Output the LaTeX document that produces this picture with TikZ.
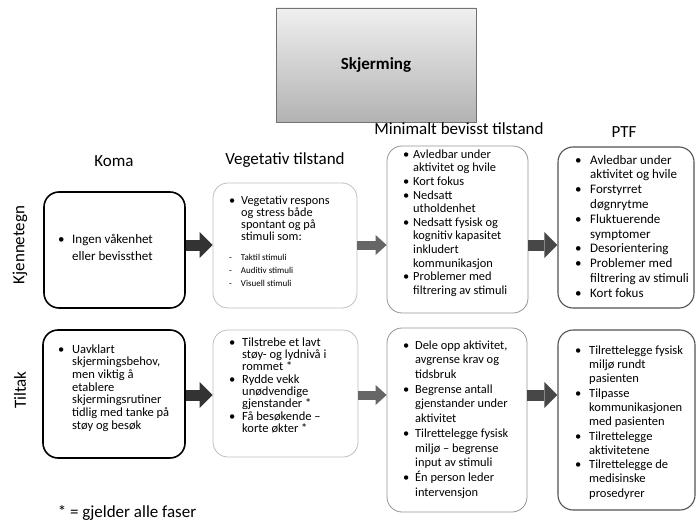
\documentclass[tikz,border=0pt]{standalone}
\usepackage{fontspec}
\setmainfont{Carlito}
\usetikzlibrary{arrows.meta}
\newlength{\pktw}
\newcommand{\pkt}{\makebox[\pktw][l]{\textbullet}}
\newcommand{\inn}{\hspace*{\pktw}}
\newcommand{\tett}{\lineskiplimit=-10pt\relax}

\begin{document}
\begin{tikzpicture}[x=1pt,y=-1pt,
  every node/.style={font=\fontsize{17}{20}\selectfont},
  koma/.style={draw=black,line width=1.6pt,rounded corners=15pt},
  veg/.style={draw=black!25,line width=0.8pt,rounded corners=15pt},
  mbt/.style={draw=black!42,line width=0.8pt,rounded corners=15pt},
  ptf/.style={draw=black!68,line width=1.1pt,rounded corners=15pt},
  tekst/.style={anchor=north west,inner sep=0pt,align=left},
  stor/.style={line width=11pt,draw=black!80,
    -{Triangle[length=13pt,width=26pt,line width=0pt]}},
  liten/.style={line width=9pt,draw=black!60,
    -{Triangle[length=11pt,width=20pt,line width=0pt]}}]
  \useasboundingbox (0,0) rectangle (696,524);
  % tittel
  \node[draw=black!55,top color=black!6,bottom color=black!30,
    minimum width=200pt,minimum height=114pt,
    font=\bfseries\fontsize{17}{20}\selectfont] (tittel) at (376,65) {Skjerming};
  % overskrifter
  \node (hkoma) at (114,161) {Koma};
  \node (hveg) at (285,160) {Vegetativ tilstand};
  \node (hmbt) at (459,129) {Minimalt bevisst tilstand};
  \node (hptf) at (624,132) {PTF};
  \node[rotate=90] (kjennetegn) at (20,245) {Kjennetegn};
  \node[rotate=90] (tiltak) at (20,390) {Tiltak};
  % kjennetegn
  \node[koma,minimum width=141pt,minimum height=116pt] (koma1) at (114.5,250) {};
  \node[veg,minimum width=144pt,minimum height=125pt] (veg1) at (285,245.5) {};
  \node[mbt,minimum width=141pt,minimum height=167pt] (mbt1) at (457.5,229.5) {};
  \node[ptf,minimum width=136pt,minimum height=161pt] (ptf1) at (626,227.5) {};
  % tiltak
  \node[koma,minimum width=142pt,minimum height=128pt] (koma2) at (114,394) {};
  \node[veg,minimum width=145pt,minimum height=127pt] (veg2) at (285.5,393.5) {};
  \node[mbt,minimum width=140pt,minimum height=184pt] (mbt2) at (457,420) {};
  \node[ptf,minimum width=137pt,minimum height=180pt] (ptf2) at (626.5,420) {};

  \node[tekst,font=\fontsize{13}{17}\selectfont\setlength{\pktw}{14pt}] (koma1txt) at (58,231)
    {\strut\pkt Ingen våkenhet\\\inn eller bevissthet};
  \node[tekst,font=\fontsize{12.3}{12}\selectfont\tett\setlength{\pktw}{12pt}] (veg1txt) at (229,195.6)
    {\strut\pkt Vegetativ respons\\\inn og stress  både\\
     \inn spontant og på\\\inn stimuli som:};
  \node[tekst,font=\fontsize{9}{13}\selectfont] (veg1sma) at (229,251)
    {\strut -\hspace{9pt}Taktil stimuli\\-\hspace{9pt}Auditiv stimuli\\-\hspace{9pt}Visuell stimuli};
  \node[tekst,font=\fontsize{12.4}{13.6}\selectfont\tett\setlength{\pktw}{10pt}] (mbt1txt) at (403,148.5)
    {\strut\pkt Avledbar under\\\inn aktivitet og hvile\\
     \pkt Kort fokus\\\pkt Nedsatt\\\inn utholdenhet\\
     \pkt Nedsatt fysisk og\\\inn kognitiv kapasitet\\\inn inkludert\\\inn kommunikasjon\\
     \pkt Problemer  med\\\inn filtrering av stimuli};
  \node[tekst,font=\fontsize{13}{14.8}\selectfont\tett\setlength{\pktw}{15pt}] (ptf1txt) at (575,153.6)
    {\strut\pkt Avledbar under\\\inn aktivitet og hvile\\
     \pkt Forstyrret\\\inn døgnrytme\\\pkt Fluktuerende\\\inn symptomer\\
     \pkt Desorientering\\\pkt Problemer  med\\\inn filtrering av stimuli\\\pkt Kort fokus};
  \node[tekst,font=\fontsize{12.5}{12.7}\selectfont\tett\setlength{\pktw}{14pt}] (koma2txt) at (58,344)
    {\strut\pkt Uavklart\\\inn skjermingsbehov,\\\inn men viktig å\\
     \inn etablere\\\inn skjermingsrutiner\\\inn tidlig med tanke på\\\inn støy og besøk};
  \node[tekst,font=\fontsize{12.5}{12.3}\selectfont\tett\setlength{\pktw}{13pt}] (veg2txt) at (229,337.4)
    {\strut\pkt Tilstrebe et lavt\\\inn støy- og lydnivå i\\\inn rommet  *\\
     \pkt Rydde vekk\\\inn unødvendige\\\inn gjenstander *\\
     \pkt Få besøkende --\\\inn korte økter *};
  \node[tekst,font=\fontsize{12.4}{14.7}\selectfont\tett\setlength{\pktw}{12pt}] (mbt2txt) at (403,338.7)
    {\strut\pkt Dele opp aktivitet,\\\inn avgrense krav og\\\inn tidsbruk\\
     \pkt Begrense antall\\\inn gjenstander under\\\inn aktivitet\\
     \pkt Tilrettelegge fysisk\\\inn miljø -- begrense\\\inn input av stimuli\\
     \pkt Én person leder\\\inn intervensjon};
  \node[tekst,font=\fontsize{12.5}{14.3}\selectfont\tett\setlength{\pktw}{14pt}] (ptf2txt) at (575,344)
    {\strut\pkt Tilrettelegge fysisk\\\inn miljø rundt\\\inn pasienten\\
     \pkt Tilpasse\\\inn kommunikasjonen\\\inn med pasienten\\
     \pkt Tilrettelegge\\\inn aktivitetene\\
     \pkt Tilrettelegge de\\\inn medisinske\\\inn prosedyrer};

  \node (fotnote) at (127,513) {* = gjelder alle faser};

  % piler
  \coordinate (r1) at (0,245);
  \coordinate (r2) at (0,395);
  \draw[stor] (koma1.east |- r1) -- (veg1.west |- r1);
  \draw[liten] (veg1.east |- r1) -- (mbt1.west |- r1);
  \draw[stor,draw=black!72] (mbt1.east |- r1) -- (ptf1.west |- r1);
  \draw[stor] (koma2.east |- r2) -- (veg2.west |- r2);
  \draw[liten] (veg2.east |- r2) -- (mbt2.west |- r2);
  \draw[stor,draw=black!72] (mbt2.east |- r2) -- (ptf2.west |- r2);
\end{tikzpicture}
\end{document}
